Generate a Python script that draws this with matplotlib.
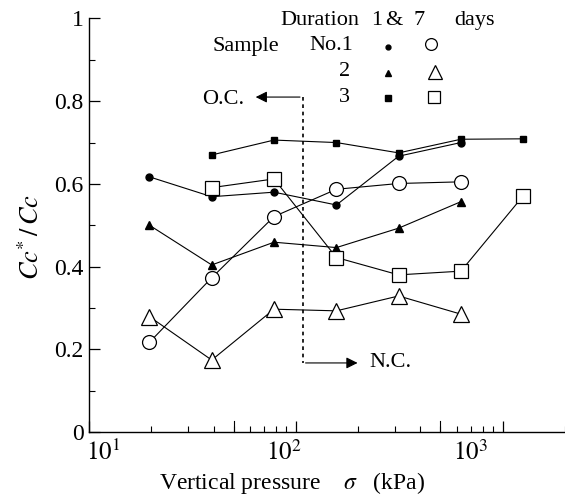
import matplotlib
matplotlib.use("Agg")
import matplotlib.pyplot as plt
from matplotlib.ticker import FixedLocator, NullFormatter, LogLocator

plt.rcParams['font.family'] = ['Liberation Serif', 'DejaVu Serif']
plt.rcParams['mathtext.fontset'] = 'stix'

# Data
pressure = [19.6, 39.2, 78.4, 157, 314, 628, 1256]

s1_day1 = [0.617, 0.569, 0.580, 0.549, 0.667, 0.700]          # x: 19.6..628
s1_day7 = [0.217, 0.373, 0.521, 0.587, 0.601, 0.605]          # x: 19.6..628
s2_day1 = [0.500, 0.404, 0.459, 0.446, 0.493, 0.557]          # x: 19.6..628
s2_day7 = [0.279, 0.174, 0.297, 0.293, 0.329, 0.285]          # x: 19.6..628
s3_day1 = [0.670, 0.706, 0.700, 0.675, 0.708, 0.709]          # x: 39.2..1256
s3_day7 = [0.591, 0.612, 0.422, 0.380, 0.389, 0.571]          # x: 39.2..1256

yticks = [0, 0.2, 0.4, 0.6, 0.8, 1]
ytick_labels = ["0", "0.2", "0.4", "0.6", "0.8", "1"]
xtick_labels = [r'$10^{1}$', r'$10^{2}$', r'$10^{3}$']
pc_line = 108

W, H = 565, 498
fig = plt.figure(figsize=(W / 100, H / 100), dpi=100)
ax = fig.add_axes([89 / W, 1 - 432 / H, (565 - 89) / W, (432 - 18.5) / H])

lw = 0.8
kw_f = dict(color='black', lw=lw, markerfacecolor='black', markeredgecolor='black')
kw_o = dict(color='black', lw=lw, markerfacecolor='white', markeredgecolor='black', markeredgewidth=0.9)

x6 = pressure[:6]
x6b = pressure[1:]
ax.plot(x6, s1_day1, marker='o', markersize=5, **kw_f, zorder=3)
ax.plot(x6, s1_day7, marker='o', markersize=10, **kw_o, zorder=3)
ax.plot(x6, s2_day1, marker='^', markersize=6, **kw_f, zorder=3)
ax.plot(x6, s2_day7, marker='^', markersize=11, **kw_o, zorder=3)
ax.plot(x6b, s3_day1, marker='s', markersize=4.5, **kw_f, zorder=3)
ax.plot(x6b, s3_day7, marker='s', markersize=10, **kw_o, zorder=3)

ax.set_xscale('log')
ax.set_xlim(10, 2000)
ax.set_ylim(0, 1)

ax.xaxis.set_major_locator(FixedLocator([10, 100, 1000]))
ax.xaxis.set_major_formatter(NullFormatter())
ax.xaxis.set_minor_locator(LogLocator(base=10, subs=[2, 3, 4, 5, 6, 7, 8, 9]))
ax.xaxis.set_minor_formatter(NullFormatter())
ax.set_yticks(yticks)
ax.set_yticklabels(ytick_labels)
ax.set_yticks([0.1, 0.3, 0.5, 0.7, 0.9], minor=True)

ax.tick_params(which='major', direction='in', length=8, width=0.9, labelsize=17, pad=4)
ax.tick_params(which='minor', direction='in', length=4.3, width=0.8)
for sp in ['top', 'right']:
    ax.spines[sp].set_visible(False)
for sp in ['left', 'bottom']:
    ax.spines[sp].set_linewidth(1.0)
# longer ticks at 50 and 500
ax.plot([50, 50], [0, 0.027], color='black', lw=0.8, clip_on=False)
ax.plot([500, 500], [0, 0.027], color='black', lw=0.8, clip_on=False)

def px(xp, yp):
    return xp / W, 1 - yp / H

# x tick labels (placed as in the reference)
for xc, lab in zip([103, 284, 471], xtick_labels):
    fig.text(*px(xc, 452), lab, ha='center', va='center', fontsize=18)

# OC / NC indicator
ax.plot([pc_line, pc_line], [0.81, 0.167], color='black', lw=1.2, linestyle=(0, (2.2, 2.2)))
ax.annotate('', xy=(62, 0.81), xytext=(pc_line, 0.81),
            arrowprops=dict(arrowstyle='-|>', color='black', lw=0.8, mutation_scale=17))
ax.annotate('', xy=(205, 0.167), xytext=(pc_line, 0.167),
            arrowprops=dict(arrowstyle='-|>', color='black', lw=0.8, mutation_scale=17))
ax.text(56, 0.803, 'O.C.', ha='right', va='center', fontsize=16)
ax.text(227, 0.167, 'N.C.', ha='left', va='center', fontsize=16)

# Axis labels
fig.text(*px(292, 483), r'Vertical pressure    $\sigma$   (kPa)', ha='center', va='center', fontsize=17)
fig.text(*px(31, 237), r'$Cc^{*}\,/\,Cc$', ha='center', va='center', fontsize=19, rotation=90)

# Legend block
fs = 16
fig.text(*px(280, 20), 'Duration', ha='left', va='center', fontsize=fs)
fig.text(*px(377, 20), '1', ha='center', va='center', fontsize=fs)
fig.text(*px(394, 20), '&', ha='center', va='center', fontsize=fs)
fig.text(*px(419, 20), '7', ha='center', va='center', fontsize=fs)
fig.text(*px(495, 20), 'days', ha='right', va='center', fontsize=fs)
fig.text(*px(213, 46), 'Sample', ha='left', va='center', fontsize=fs)
fig.text(*px(353, 46), 'No.1', ha='right', va='center', fontsize=fs)
fig.text(*px(350, 72), '2', ha='right', va='center', fontsize=fs)
fig.text(*px(350, 98), '3', ha='right', va='center', fontsize=fs)

leg_ax = fig.add_axes([0, 0, 1, 1], facecolor='none')
leg_ax.set_xlim(0, W)
leg_ax.set_ylim(H, 0)
leg_ax.axis('off')
kl_o = dict(markerfacecolor='white', markeredgecolor='black', markeredgewidth=0.9, linestyle='none')
leg_ax.plot([388], [47], marker='o', markersize=3.5, color='black', linestyle='none')
leg_ax.plot([431], [44], marker='o', markersize=8.5, **kl_o)
leg_ax.plot([388], [73], marker='^', markersize=5, color='black', linestyle='none')
leg_ax.plot([435], [72], marker='^', markersize=10, **kl_o)
leg_ax.plot([388], [98], marker='s', markersize=4, color='black', linestyle='none')
leg_ax.plot([434], [97], marker='s', markersize=9, **kl_o)

fig.savefig('out.png', dpi=100)
